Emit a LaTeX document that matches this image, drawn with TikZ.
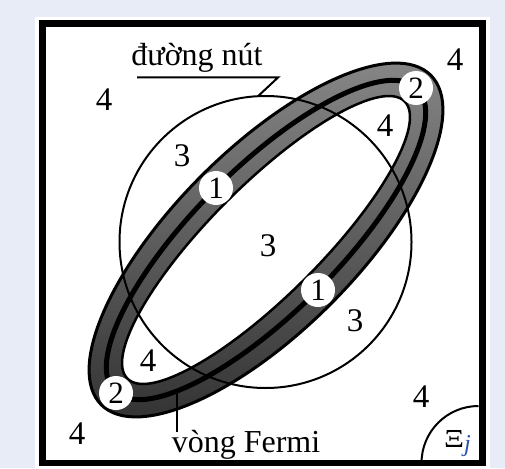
\documentclass[tikz,border=0pt]{standalone}
\usepackage{fontspec}
\setmainfont{Liberation Serif}
\usepackage{xcolor}
\usepackage{graphicx}
\usepackage{tikz}
\usetikzlibrary{positioning}

\definecolor{bgblue}{RGB}{232,236,246}
\definecolor{ringtop}{RGB}{135,135,135}
\definecolor{ringbot}{RGB}{50,50,50}
\definecolor{jblue}{RGB}{40,80,170}

\begin{document}
\begin{tikzpicture}[x=1pt,y=-1pt,
  digit/.style={inner sep=0pt,font=\fontsize{33}{33}\selectfont},
  badge/.style={circle,fill=white,minimum size=34pt,inner sep=0pt,font=\fontsize{31}{31}\selectfont},
  tag/.style={inner sep=0pt,font=\fontsize{32}{32}\selectfont},
  lead/.style={line width=2pt}]
  % page and frame
  \fill[bgblue] (0,0) rectangle (505,468);
  \fill[white] (35,17) rectangle (490,468);
  \draw[line width=6.5pt] (42.5,23.5) rectangle (482.5,463);

  % fermi ring, shaded band
  \begin{scope}[even odd rule,shift={(266,240)},rotate=45]
    \clip (0,0) ellipse[x radius=233,y radius=91]
      (0,0) ellipse[x radius=196,y radius=55];
    \shade[reset cm,top color=ringtop,bottom color=ringbot] (80,55) rectangle (452,425);
  \end{scope}

  % fermi ring, outlines
  \begin{scope}[shift={(266,240)},rotate=45]
    \draw[line width=3pt] (0,0) ellipse[x radius=233,y radius=91];
    \draw[line width=2.5pt] (0,0) ellipse[x radius=196,y radius=55];
    \draw[line width=5pt] (0,0) ellipse[x radius=214,y radius=72];
    \coordinate (fermi) at (142.5:214 and 72);
  \end{scope}

  % nodal line
  \draw[line width=2pt] (265.5,242) circle[radius=146];
  \coordinate (knot) at (258,96.2);

  % corner arc
  \draw[line width=2pt] (421.5,463) arc[start angle=180,end angle=270,radius=57];
  \node[anchor=base west,inner sep=0pt] (xi) at (444,447)
    {\resizebox{20pt}{17pt}{Ξ}\raisebox{-4pt}{\color{jblue}\resizebox{!}{16pt}{\itshape j}}};

  % labels
  \node[tag,anchor=base] (nodal) at (197,66) {đường nút};
  \coordinate (nodalA) at (137,77.5);
  \coordinate (nodalB) at (278,77.5);
  \draw[lead] (nodalA) -- (nodalB) -- (knot);

  \node[tag,anchor=base] (ring) at (246,452) {vòng Fermi};
  \coordinate (ringA) at (fermi |- 0,432);
  \draw[lead] (fermi) -- (ringA);

  % region numbers
  \node[digit] (out a) at (104,100) {4};
  \node[digit] (out b) at (455,60) {4};
  \node[digit] (out c) at (385,126) {4};
  \node[digit] (out d) at (148,361) {4};
  \node[digit] (out e) at (421,397) {4};
  \node[digit] (out f) at (77,434) {4};

  \node[digit] (in a) at (182,156) {3};
  \node[digit] (in b) at (268,246) {3};
  \node[digit] (in c) at (355,321) {3};

  % points on the ring
  \node[badge] (one a) at (216,188) {1};
  \node[badge] (one b) at (318,290) {1};
  \node[badge] (two a) at (416,88) {2};
  \node[badge] (two b) at (116,393) {2};
\end{tikzpicture}
\end{document}
